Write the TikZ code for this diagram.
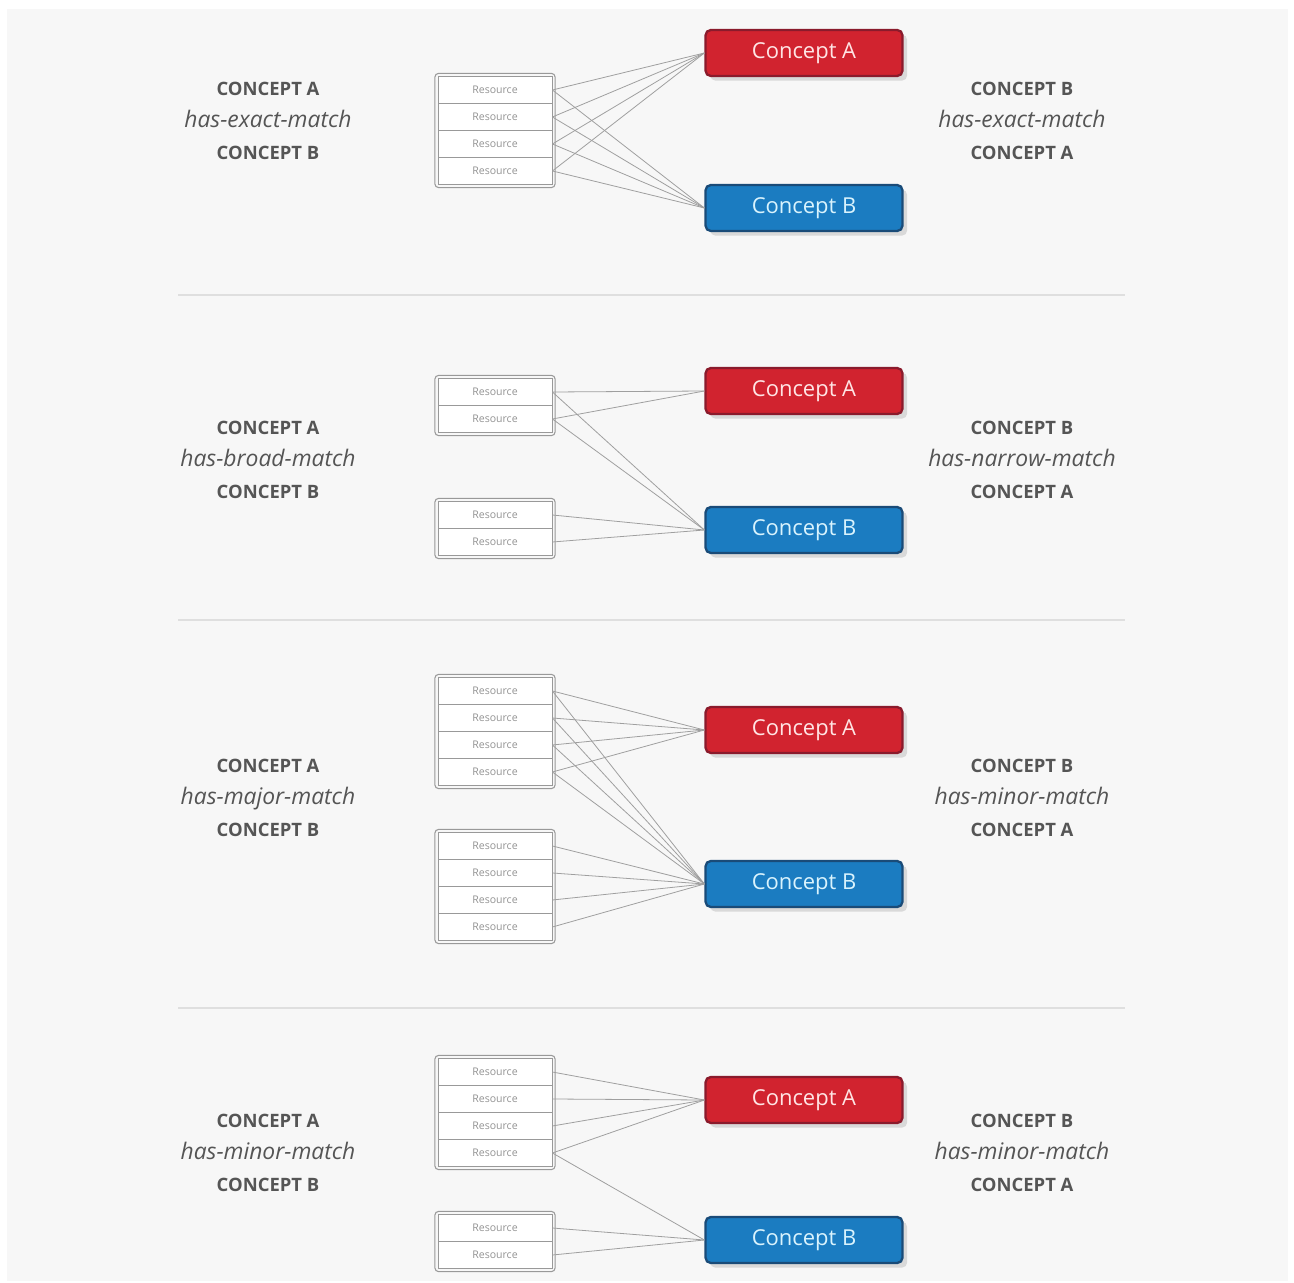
\documentclass[tikz,border=0pt]{standalone}
\usepackage{fontspec}
\setmainfont{Open Sans}
\usepackage{tikz}
\usetikzlibrary{shadows,fit}
\definecolor{bggray}{HTML}{F7F7F7}
\definecolor{redfill}{HTML}{D1232F}
\definecolor{redline}{HTML}{8A1B2C}
\definecolor{bluefill}{HTML}{1B7CC1}
\definecolor{blueline}{HTML}{1A4B78}
\definecolor{labelgray}{HTML}{555555}
\newcommand{\cname}[1]{{\fontsize{10.5}{18}\selectfont\bfseries #1}}
\newcommand{\rname}[1]{{\fontsize{13}{18}\selectfont\itshape #1}}
\tikzstyle{conceptA}=[draw=redline, fill=redfill, line width=1.3pt, rounded corners=3pt, minimum width=3.94cm, minimum height=0.92cm, text=red!10, font=\fontsize{12.5}{14}\selectfont, drop shadow={opacity=0.25}]
\tikzstyle{conceptB}=[draw=blueline, fill=bluefill, line width=1.3pt, rounded corners=3pt, minimum width=3.94cm, minimum height=0.92cm, text=cyan!15, font=\fontsize{12.5}{14}\selectfont, drop shadow={opacity=0.25}]
\tikzstyle{row}=[draw=gray!80, fill=white, line width=0.5pt, minimum width=2.28cm, minimum height=0.54cm, inner sep=0pt, text=gray!85, font=\fontsize{6}{7}\selectfont]
\tikzstyle{group}=[draw=gray!80, line width=0.6pt, rounded corners=2pt, inner sep=1.5pt]
\tikzstyle{label}=[align=center, text=labelgray, font=\fontsize{10.5}{18}\selectfont]
\tikzstyle{link}=[draw=gray!75, line width=0.45pt]
\tikzstyle{rule}=[draw=gray!25, line width=0.6pt]

\begin{document}
\begin{tikzpicture}[x=0.02cm, y=-0.02cm]
            \useasboundingbox (0,0) rectangle (1294,1283);
            \fill[white] (0,0) rectangle (1294,1283);
            \fill[bggray] (7,9) rectangle (1288,1281);
            % exact match
            \node [conceptA] (ca1) at (804,53) {Concept A};
            \node [conceptB] (cb1) at (804,208) {Concept B};
            \node [row] (r11) at (495,90) {Resource};
            \node [row, below of=r11, node distance=0.54cm] (r12) {Resource};
            \node [row, below of=r12, node distance=0.54cm] (r13) {Resource};
            \node [row, below of=r13, node distance=0.54cm] (r14) {Resource};
            \node [group, fit=(r11) (r14)] (g1) {};
            \node [label] (l1) at (268,121) {\cname{CONCEPT A}\\\rname{has-exact-match}\\\cname{CONCEPT B}};
            \node [label] (m1) at (1022,121) {\cname{CONCEPT B}\\\rname{has-exact-match}\\\cname{CONCEPT A}};
            \foreach \r in {r11,r12,r13,r14} {
                \path[link] (\r.east) edge (ca1.west);
                \path[link] (\r.east) edge (cb1.west);
            }
            \draw[rule] (178,295) -- (1125,295);
            % broad / narrow match
            \node [conceptA] (ca2) at (804,391) {Concept A};
            \node [conceptB] (cb2) at (804,530) {Concept B};
            \node [row] (r21) at (495,392) {Resource};
            \node [row, below of=r21, node distance=0.54cm] (r22) {Resource};
            \node [group, fit=(r21) (r22)] (g21) {};
            \node [row] (r23) at (495,515) {Resource};
            \node [row, below of=r23, node distance=0.54cm] (r24) {Resource};
            \node [group, fit=(r23) (r24)] (g22) {};
            \node [label] (l2) at (268,460) {\cname{CONCEPT A}\\\rname{has-broad-match}\\\cname{CONCEPT B}};
            \node [label] (m2) at (1022,460) {\cname{CONCEPT B}\\\rname{has-narrow-match}\\\cname{CONCEPT A}};
            \path[link] (r21.east) edge (ca2.west);
            \path[link] (r22.east) edge (ca2.west);
            \path[link] (r21.east) edge (cb2.west);
            \path[link] (r22.east) edge (cb2.west);
            \path[link] (r23.east) edge (cb2.west);
            \path[link] (r24.east) edge (cb2.west);
            \draw[rule] (178,620) -- (1125,620);
            % major / minor match
            \node [conceptA] (ca3) at (804,730) {Concept A};
            \node [conceptB] (cb3) at (804,884) {Concept B};
            \node [row] (r31) at (495,691) {Resource};
            \node [row, below of=r31, node distance=0.54cm] (r32) {Resource};
            \node [row, below of=r32, node distance=0.54cm] (r33) {Resource};
            \node [row, below of=r33, node distance=0.54cm] (r34) {Resource};
            \node [group, fit=(r31) (r34)] (g31) {};
            \node [row] (r35) at (495,846) {Resource};
            \node [row, below of=r35, node distance=0.54cm] (r36) {Resource};
            \node [row, below of=r36, node distance=0.54cm] (r37) {Resource};
            \node [row, below of=r37, node distance=0.54cm] (r38) {Resource};
            \node [group, fit=(r35) (r38)] (g32) {};
            \node [label] (l3) at (268,798) {\cname{CONCEPT A}\\\rname{has-major-match}\\\cname{CONCEPT B}};
            \node [label] (m3) at (1022,798) {\cname{CONCEPT B}\\\rname{has-minor-match}\\\cname{CONCEPT A}};
            \foreach \r in {r31,r32,r33,r34} {
                \path[link] (\r.east) edge (ca3.west);
                \path[link] (\r.east) edge (cb3.west);
            }
            \foreach \r in {r35,r36,r37,r38}
                \path[link] (\r.east) edge (cb3.west);
            \draw[rule] (178,1008) -- (1125,1008);
            % minor match
            \node [conceptA] (ca4) at (804,1100) {Concept A};
            \node [conceptB] (cb4) at (804,1240) {Concept B};
            \node [row] (r41) at (495,1072) {Resource};
            \node [row, below of=r41, node distance=0.54cm] (r42) {Resource};
            \node [row, below of=r42, node distance=0.54cm] (r43) {Resource};
            \node [row, below of=r43, node distance=0.54cm] (r44) {Resource};
            \node [group, fit=(r41) (r44)] (g41) {};
            \node [row] (r45) at (495,1228) {Resource};
            \node [row, below of=r45, node distance=0.54cm] (r46) {Resource};
            \node [group, fit=(r45) (r46)] (g42) {};
            \node [label] (l4) at (268,1153) {\cname{CONCEPT A}\\\rname{has-minor-match}\\\cname{CONCEPT B}};
            \node [label] (m4) at (1022,1153) {\cname{CONCEPT B}\\\rname{has-minor-match}\\\cname{CONCEPT A}};
            \foreach \r in {r41,r42,r43,r44}
                \path[link] (\r.east) edge (ca4.west);
            \path[link] (r44.east) edge (cb4.west);
            \path[link] (r45.east) edge (cb4.west);
            \path[link] (r46.east) edge (cb4.west);
        \end{tikzpicture}
\end{document}
